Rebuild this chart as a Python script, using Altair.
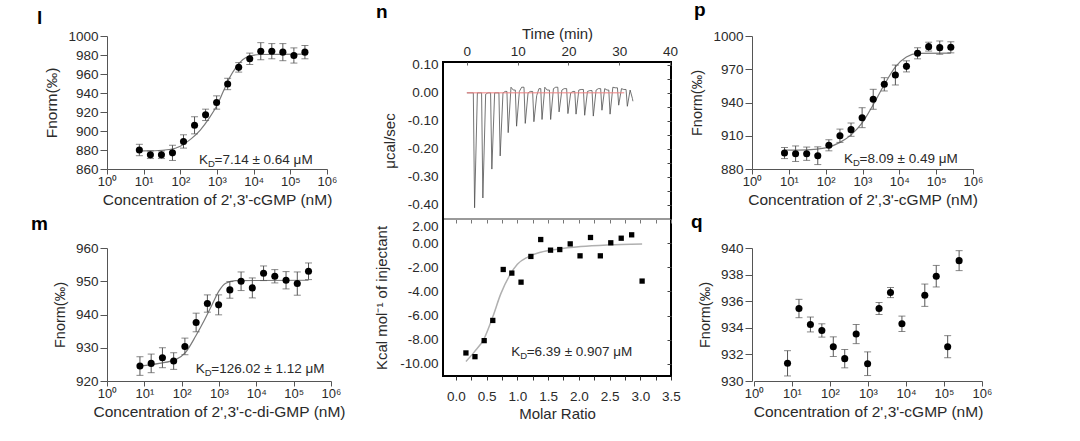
import altair as alt
import pandas as pd

FONT = "Liberation Sans"
GRAY = "#555555"
CURVE = "#7a7a7a"
TXT = "#2a2a2a"

# ---------------- data ----------------
conc = [7.63, 15.26, 30.52, 61.04, 122.1, 244.1, 488.3, 976.6, 1953.0, 3906.0,
        7813.0, 15625.0, 31250.0, 62500.0, 125000.0, 250000.0]

# panel l
l_y = [880, 875, 875, 877, 889, 906, 917, 930, 949.5, 967, 976, 984, 984, 983, 979.5, 983]
l_err = [6, 4, 4, 8, 7, 9, 6, 7, 6, 5, 6, 9, 8, 9, 8, 7]
l_fit_x = [7.63, 20, 50, 100, 200, 350, 600, 1000, 1500, 2200, 3300, 5000, 8000, 15000, 250000]
l_fit_y = [879, 879.2, 880.5, 884, 892, 901, 913, 927, 942, 956, 967, 975, 979, 980.5, 981]

# panel m
m_y = [924.5, 925.3, 927, 926, 930.4, 937.6, 943.3, 942.9, 947.4, 950, 948, 952.4, 951.5, 950.3, 949.3, 953]
m_err = [2.8, 2.8, 3.0, 2.5, 2.5, 2.8, 2.6, 3.0, 2.5, 2.8, 3.0, 2.2, 2.0, 2.6, 3.5, 2.5]
m_fit_x = [7.63, 25, 71, 129, 240, 398, 661, 1000, 1514, 2754, 250000]
m_fit_y = [924.5, 925.3, 926.5, 928.7, 933.6, 938.1, 943.1, 947.1, 949.4, 950.2, 950.3]

# panel p
p_y = [894.4, 893.8, 893.8, 892, 901.4, 910, 915.5, 926.3, 942.9, 956.4, 964.8, 972.6, 984.4, 990.4, 989.5, 989.8]
p_err = [5, 7, 6, 8, 5, 6, 6, 9, 9, 6, 9, 5, 5, 4, 6, 5]
p_fit_x = [7.63, 31.6, 100, 245, 500, 1000, 1950, 3890, 7760, 15500, 31600, 250000]
p_fit_y = [897, 897.3, 899, 904, 911, 922, 938, 956, 972, 981, 984.3, 984.5]

# panel q (no point at 15625 nM)
q_x = [7.63, 15.26, 30.52, 61.04, 122.1, 244.1, 488.3, 976.6, 1953.0, 3906.0,
       7813.0, 31250.0, 62500.0, 125000.0, 250000.0]
q_y = [931.33, 935.45, 934.25, 933.8, 932.58, 931.68, 933.53, 931.3, 935.45, 936.65,
       934.3, 936.45, 937.88, 932.58, 939.05]
q_err = [0.95, 0.69, 0.56, 0.5, 0.74, 0.69, 0.72, 0.89, 0.45, 0.38, 0.58, 0.84, 0.81, 0.83, 0.75]

# panel n, raw thermogram (injection time, peak depth, level after peak, mid-interval level)
inj_t = [1.32, 2.95, 4.72, 6.36, 7.94, 9.59, 11.3, 13.0, 14.6, 16.3, 17.96, 19.7, 21.3,
         23.0, 24.7, 26.4, 28.0, 29.7, 31.4]
inj_peak = [-0.41, -0.375, -0.272, -0.225, -0.142, -0.119, -0.109, -0.103, -0.095, -0.095,
            -0.068, -0.074, -0.076, -0.08, -0.083, -0.062, -0.076, -0.044, -0.048]
inj_after = [0.0, -0.005, 0.0, 0.0, 0.02, 0.005, 0.0, -0.01, 0.02, 0.015, 0.01, 0.0, 0.01,
             0.005, 0.01, 0.015, 0.02, 0.015, 0.01]
inj_mid = [0.0, 0.0, 0.0, 0.005, 0.01, 0.02, 0.005, 0.015, 0.01, 0.02, 0.015, 0.005, 0.012,
           0.008, 0.015, 0.01, 0.018, 0.012, -0.02]
tail_t = [32.7]
tail_v = [-0.03]
ref_t = [0.0, 31.0]
ref_v = [0.0, 0.0]

# panel n, integrated heats
mr = [0.163, 0.31, 0.46, 0.60, 0.77, 0.91, 1.06, 1.22, 1.38, 1.54, 1.69, 1.86, 2.02, 2.19,
      2.35, 2.52, 2.69, 2.86, 3.03]
heat = [-9.09, -9.40, -8.07, -6.40, -2.18, -2.48, -3.23, -1.10, 0.30, -0.58, -0.53, -0.06,
        -1.05, 0.47, -1.05, 0.03, 0.41, 0.69, -3.14]
mr_fit = [0.163, 0.30, 0.46, 0.60, 0.73, 0.87, 1.0, 1.17, 1.38, 1.65, 2.03, 2.46, 3.03]
heat_fit = [-9.8, -9.0, -7.9, -6.1, -4.2, -2.7, -1.75, -1.15, -0.75, -0.5, -0.28, -0.15, -0.08]

# tick positions of the ITC frame
mr_ticks = [0.0, 0.25, 0.5, 0.75, 1.0, 1.25, 1.5, 1.75, 2.0, 2.25, 2.5, 2.75, 3.0, 3.25, 3.5]
heat_ticks = [-10, -8, -6, -4, -2, 0, 2]
rate_ticks = [-0.45, -0.4, -0.35, -0.3, -0.25, -0.2, -0.15, -0.1, -0.05, 0.0, 0.05, 0.1]

# ---------------- helpers ----------------
SUP = "['\u2070','\u00b9','\u00b2','\u00b3','\u2074','\u2075','\u2076'][round(log(datum.value)/LN10)]"
NOVIEW = alt.ViewBackground(stroke="transparent")
BOX = alt.ViewBackground(stroke="black", strokeWidth=2)


def letter_title(letter, dx, dy):
    return alt.TitleParams(letter, anchor="start", frame="group", dx=dx, dy=dy, fontSize=19,
                           fontWeight="bold", font=FONT, color="black")


def mst_panel(xs, ys, errs, fit_x, fit_y, ydom, yvals, xrange, height, yrange,
              xtitle, letter, letter_dx, letter_dy, kd_text, kd_x, kd_y, width, ytitle_size):
    df = pd.DataFrame({"x": xs, "y": ys,
                       "lo": [a - b for a, b in zip(ys, errs)],
                       "hi": [a + b for a, b in zip(ys, errs)]})
    xscale = alt.Scale(type="log", domain=[1, 1e6], range=xrange)
    yscale = alt.Scale(domain=ydom, range=yrange, nice=False, zero=False)
    xaxis = alt.Axis(values=[1, 10, 100, 1000, 1e4, 1e5, 1e6], labelExpr="'10' + " + SUP,
                     title=xtitle, grid=False, labelFlush=False, labelOverlap=False,
                     tickSize=5, labelPadding=1, titlePadding=4,
                     domainColor=GRAY, tickColor=GRAY, labelColor=TXT, titleColor=TXT,
                     labelFontSize=13, titleFontSize=15.5, titleFontWeight="normal",
                     labelFont=FONT, titleFont=FONT)
    yaxis = alt.Axis(values=yvals, format="d", title="Fnorm(\u2030)", grid=False,
                     labelOverlap=False, tickSize=7, labelPadding=2, titlePadding=8,
                     domainColor=GRAY, tickColor=GRAY, labelColor=TXT, titleColor=TXT,
                     labelFontSize=13.5, titleFontSize=ytitle_size, titleFontWeight="normal",
                     labelFont=FONT, titleFont=FONT)
    X = lambda f: alt.X(f, scale=xscale, axis=xaxis)
    Y = lambda f: alt.Y(f, scale=yscale, axis=yaxis)
    base = alt.Chart(df)
    bars = base.mark_rule(color=GRAY, strokeWidth=1).encode(x=X("x:Q"), y=Y("lo:Q"), y2="hi:Q")
    cap_lo = base.mark_tick(orient="horizontal", size=7, thickness=1, color=GRAY).encode(
        x=X("x:Q"), y=Y("lo:Q"))
    cap_hi = base.mark_tick(orient="horizontal", size=7, thickness=1, color=GRAY).encode(
        x=X("x:Q"), y=Y("hi:Q"))
    pts = base.mark_circle(size=50, color="black", opacity=1).encode(x=X("x:Q"), y=Y("y:Q"))
    layers = [bars, cap_lo, cap_hi, pts]
    if fit_x is not None:
        fdf = pd.DataFrame({"x": fit_x, "y": fit_y})
        layers.insert(0, alt.Chart(fdf).mark_line(color=CURVE, strokeWidth=1.2,
                                                  interpolate="monotone").encode(
            x=X("x:Q"), y=Y("y:Q")))
    if kd_text is not None:
        kdf = pd.DataFrame({"x": [kd_x], "y": [kd_y]})
        kb = alt.Chart(kdf)
        layers += [
            kb.mark_text(text="K", align="left", baseline="middle", fontSize=13.5, font=FONT,
                         color=TXT).encode(x=X("x:Q"), y=Y("y:Q")),
            kb.mark_text(text="D", align="left", baseline="middle", fontSize=9.5, font=FONT,
                         color=TXT, dx=9, dy=4).encode(x=X("x:Q"), y=Y("y:Q")),
            kb.mark_text(text=kd_text, align="left", baseline="middle", fontSize=13.5, font=FONT,
                         color=TXT, dx=15.5).encode(x=X("x:Q"), y=Y("y:Q")),
        ]
    return alt.layer(*layers).properties(
        width=width, height=height, view=NOVIEW,
        title=letter_title(letter, letter_dx, letter_dy))


l_chart = mst_panel(conc, l_y, l_err, l_fit_x, l_fit_y, [860, 1000], list(range(860, 1001, 20)),
                    [0, 220], 107, [107, -26], "Concentration of 2',3'-cGMP (nM)", "l", -70, 3,
                    "=7.14 \u00b1 0.64 \u03bcM", 323, 869.5, 255, 15.5)
m_chart = mst_panel(conc, m_y, m_err, m_fit_x, m_fit_y, [920, 960], list(range(920, 961, 10)),
                    [0, 224], 162, [162, 29], "Concentration of 2',3'-c-di-GMP (nM)", "m", -76, 19,
                    "=126.02 \u00b1 1.12 \u03bcM", 240, 923.6, 255, 14.5)
p_chart = mst_panel(conc, p_y, p_err, p_fit_x, p_fit_y, [880, 1000], list(range(880, 1001, 30)),
                    [0, 221], 107, [107, -26], "Concentration of 2',3'-cGMP (nM)", "p", -58, -5,
                    "=8.09 \u00b1 0.49 \u03bcM", 316, 889, 231, 14.5)
q_chart = mst_panel(q_x, q_y, q_err, None, None, [930, 940], list(range(930, 941, 2)),
                    [2, 230], 162, [162, 29], "Concentration of 2',3'-cGMP (nM)", "q", -61, 17,
                    None, None, None, 231, 14.5)

# ---------------- panel n (top) ----------------
tt, tv = [0.0], [0.0]
prev = 0.0
for t, pk, af, md in zip(inj_t, inj_peak, inj_after, inj_mid):
    tt += [t - 0.05, t + 0.2, t + 0.75, t + 1.2]
    tv += [prev, pk, af, md]
    prev = md
tt += tail_t
tv += tail_v
trace_df = pd.DataFrame({"t": tt, "v": tv})
ref_df = pd.DataFrame({"t": ref_t, "v": ref_v})
rate_df = pd.DataFrame({"t": [0.0] * len(rate_ticks), "v": rate_ticks})

NLAB = dict(labelFontSize=13.5, titleFontSize=15, labelColor=TXT, titleColor=TXT,
            labelFont=FONT, titleFont=FONT, titleFontWeight="normal", grid=False)
t_scale = alt.Scale(domain=[-4.7, 40.2], nice=False, zero=False)
v_scale = alt.Scale(domain=[-0.45, 0.11], nice=False, zero=False)
t_axis = alt.Axis(orient="top", values=[0, 10, 20, 30, 40], title="Time (min)", domain=False,
                  ticks=True, tickSize=3, tickColor="#666666", offset=-3,
                  labelPadding=4, titlePadding=3, labelFlush=False, **NLAB)
v_axis = alt.Axis(values=[-0.4, -0.3, -0.2, -0.1, 0.0, 0.1], title="\u03bccal/sec", domain=False,
                  ticks=False, labelPadding=5, titlePadding=10, labelOverlap=False,
                  labelExpr="replace(format(datum.value, '.2f'), '\u2212', '-')", **NLAB)
v_axis_r = alt.Axis(orient="right", values=rate_ticks, title="", domain=False, labels=False,
                    ticks=True, tickSize=4, tickColor="#444444", offset=-4, grid=False)
TX = alt.X("t:Q", scale=t_scale, axis=t_axis)
trace = alt.Chart(trace_df).mark_line(color="#505050", strokeWidth=0.8).encode(
    x=TX, y=alt.Y("v:Q", scale=v_scale, axis=v_axis))
refl = alt.Chart(ref_df).mark_line(color="#f08080", strokeWidth=1).encode(
    x=TX, y=alt.Y("v:Q", scale=v_scale, axis=v_axis))
ghost_top = alt.Chart(rate_df).mark_point(opacity=0).encode(
    x=TX, y=alt.Y("v:Q", scale=v_scale, axis=v_axis_r))
n_top = alt.layer(alt.layer(trace, refl), ghost_top).resolve_axis(y="independent").properties(
    width=228, height=157, view=BOX, title=letter_title("n", -67, 0))

# ---------------- panel n (bottom) ----------------
heat_df = pd.DataFrame({"mr": mr, "h": heat})
hfit_df = pd.DataFrame({"mr": mr_fit, "h": heat_fit})
frame_df = pd.DataFrame({"mr": mr_ticks, "h": [heat_ticks[i % len(heat_ticks)] for i in range(len(mr_ticks))]})
mr_scale = alt.Scale(domain=[-0.21, 3.5], nice=False, zero=False)
h_scale = alt.Scale(domain=[-11, 2], nice=False, zero=False)
mr_axis = alt.Axis(values=mr_ticks, title="Molar Ratio", domain=False,
                   ticks=True, tickSize=4, tickColor="#333333", labelPadding=9, titlePadding=4,
                   labelFlush=False, labelOverlap=False,
                   labelExpr="datum.value % 0.5 == 0 ? format(datum.value, '.1f') : ''", **NLAB)
h_axis = alt.Axis(values=heat_ticks, title="Kcal mol\u207b\u00b9 of injectant",
                  domain=False, ticks=False, labelPadding=5, titlePadding=10, labelFlush=True,
                  labelOverlap=False,
                  labelExpr="replace(format(datum.value, '.2f'), '\u2212', '-')", **NLAB)
mr_axis_top = alt.Axis(orient="top", values=mr_ticks, title="", domain=False, labels=False,
                       ticks=True, tickSize=4, tickColor="#777777", offset=-4, grid=False)
h_axis_r = alt.Axis(orient="right", values=heat_ticks, title="", domain=False, labels=False,
                    ticks=True, tickSize=4, tickColor="#444444", offset=-4, grid=False)
HX = alt.X("mr:Q", scale=mr_scale, axis=mr_axis)
HY = alt.Y("h:Q", scale=h_scale, axis=h_axis)
hpts = alt.Chart(heat_df).mark_square(size=28, color="black", opacity=1).encode(x=HX, y=HY)
hfit = alt.Chart(hfit_df).mark_line(color="#b0b0b0", strokeWidth=1.5, interpolate="monotone").encode(
    x=HX, y=HY)
kdn = pd.DataFrame({"mr": [0.9], "h": [-9.0]})
kb = alt.Chart(kdn)
kd_layers = [
    kb.mark_text(text="K", align="left", baseline="middle", fontSize=13.5, font=FONT,
                 color=TXT).encode(x=HX, y=HY),
    kb.mark_text(text="D", align="left", baseline="middle", fontSize=9.5, font=FONT,
                 color=TXT, dx=9, dy=4).encode(x=HX, y=HY),
    kb.mark_text(text="=6.39 \u00b1 0.907 \u03bcM", align="left", baseline="middle", fontSize=13.5,
                 font=FONT, color=TXT, dx=15.5).encode(x=HX, y=HY),
]
divider = alt.Chart(heat_df).mark_rule(color="#9a9a9a", strokeWidth=2.2).encode(
    x=alt.value(1), x2=alt.value(227), y=alt.value(0))
ghost_bot = alt.Chart(frame_df).mark_point(opacity=0).encode(
    x=alt.X("mr:Q", scale=mr_scale, axis=mr_axis_top),
    y=alt.Y("h:Q", scale=h_scale, axis=h_axis_r))
n_bot = alt.layer(alt.layer(hfit, hpts, *kd_layers, divider), ghost_bot).resolve_axis(
    x="independent", y="independent").properties(width=228, height=157, view=BOX)

chart = alt.concat(l_chart, n_top, p_chart, m_chart, n_bot, q_chart, columns=3,
                   spacing={"row": 0, "column": 81}, bounds="flush", align="each").properties(
    padding={"left": 30, "top": 0, "right": 5, "bottom": 5}
).configure(font=FONT, background="white")

chart.save("out.html", embed_options={"renderer": "svg", "actions": False})
